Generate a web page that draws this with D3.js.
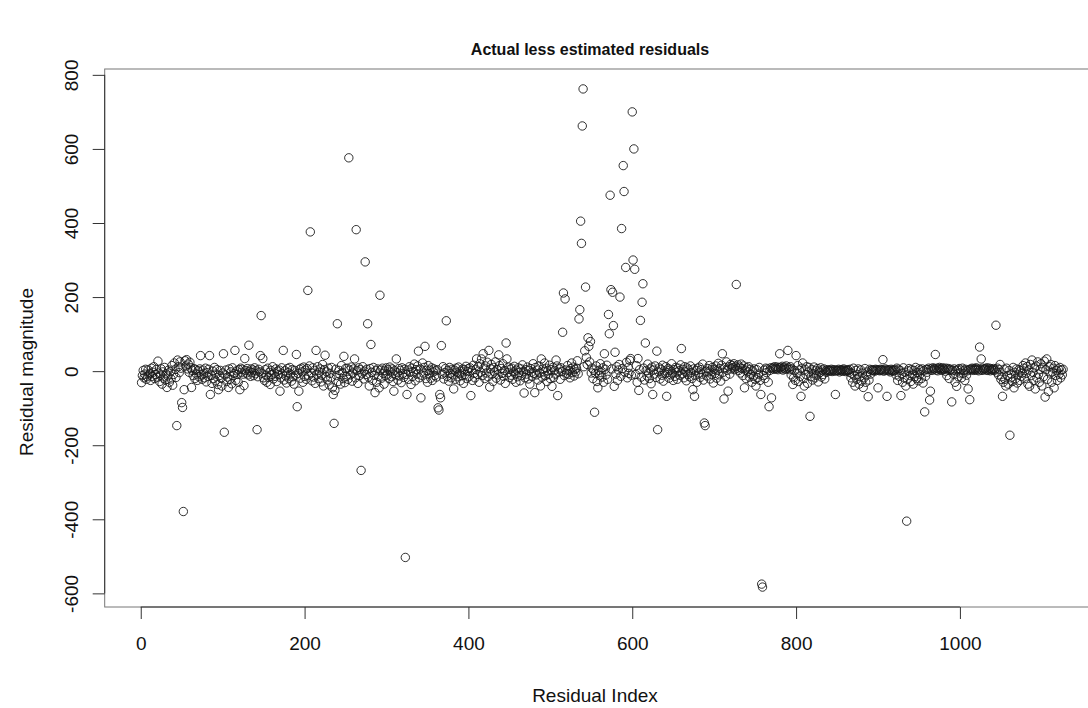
<!DOCTYPE html>
<html><head><meta charset="utf-8">
<script src="https://cdn.jsdelivr.net/npm/d3@7"></script>
<style>body{margin:0;background:#fff} text{font-family:"Liberation Sans",Arial,Helvetica,sans-serif;fill:#111}</style>
</head><body><svg id="c" width="1088" height="708"></svg>
<script>
// residuals for index 1..200
const resA = [
-31,-12,2,-18,-8,5,-22,-15,3,-10, -6,-25,8,-14,-3,12,-20,-9,4,-16,
27,-5,-28,-11,6,-35,-2,-19,10,-24, -7,-44,-13,3,-30,-1,-21,15,-38,-9,
22,5,-17,-147,30,12,-4,25,8,-85,
-98,-379,-50,28,14,31,6,19,-3,24, 9,-44,2,-12,7,-20,4,-8,-25,1,
-15,6,42,-10,-22,3,-6,-18,8,-29, -4,-14,5,42,-63,-11,-33,0,-20,10,
-26,-8,4,-36,-50,-12,2,-19,-40,-5,
47,-165,-10,3,-28,-16,-44,6,-22,-2, -34,9,-12,-6,56,-25,1,-9,-30,4,
-50,8,-3,5,-8,-39,34,2,-5,7, -10,70,0,-14,6,-4,3,-12,9,-7,
1,-158,-15,5,-2,42,150,-6,34,-18,
-25,4,-11,-30,8,-17,-3,-36,2,-9, 12,-21,-5,-14,6,-28,0,-10,3,-54,
-18,9,-7,56,-24,1,-13,-32,7,-4, -20,10,-8,-27,4,-15,-35,2,-11,45,
-96,-6,-54,5,-19,8,-2,-30,11,-14
];
// index 201..400
const resB = [
3,-22,7,218,-12,14,376,-5,-26,9, -16,2,-33,56,-8,12,-20,-3,6,-29,
-11,18,-40,4,43,-15,-2,-24,8,-37, -6,-18,10,-45,-63,-141,-52,5,-12,128,
-28,2,-9,-35,15,-4,-20,40,-31,7,
-14,8,-22,576,3,-10,11,-27,-5,6, 33,-18,382,2,-33,9,-12,4,-268,-7,
12,-21,0,295,-9,5,128,-16,-40,7, 72,-3,-25,10,-11,-58,1,-30,6,-14,
-45,205,3,-19,8,-6,-35,2,-12,9,
-8,4,-20,11,-2,-15,6,-28,-54,1, -10,33,-4,-24,7,-13,2,-31,9,-6,
-17,5,-503,-9,-63,3,-22,12,-3,-36, 8,-14,-1,19,-26,4,-8,14,54,-18,
6,-72,-11,22,-5,10,67,-20,2,-30,
15,-7,3,-19,9,-25,-2,6,-12,1, -16,4,-99,-105,-63,-72,69,-8,12,-21,
-4,7,136,-14,2,-27,10,-6,-18,5, -10,-48,3,-22,8,-3,-15,11,-7,-26,
0,-12,6,-33,4,-9,13,-20,-1,7
];
// index 401..600
const resC = [
-14,9,-66,2,-25,16,-6,-18,5,33, -9,12,-30,20,-3,33,-12,47,8,-20,
14,-5,24,-15,56,-43,6,18,-8,-28, 10,-2,25,-19,4,-10,44,15,-24,7,
-6,20,-14,2,-33,76,33,-4,11,-17,
5,-11,8,-22,-2,13,-7,-30,3,-15, 9,-4,-26,6,-12,17,-1,-59,-18,4,
-8,11,-21,2,-35,7,-3,-14,20,-6, -58,10,-10,3,-24,14,-5,-40,33,-16,
6,-2,22,-12,8,-28,1,-9,16,-20,
4,-41,10,-17,2,-8,30,14,-66,-3, 6,-22,9,-1,105,211,-12,195,3,-6,
15,-9,1,-18,7,22,-4,11,-13,5, -2,8,28,-7,141,166,405,345,662,762,
12,55,227,37,18,90,67,25,80,-5,
8,-20,3,-111,-6,14,-28,-45,2,-12, 20,-4,-16,9,-30,47,5,-10,16,-22,
153,101,475,220,6,213,123,-41,51,-8, 12,-25,3,18,200,-14,385,7,555,485,
-3,280,24,-18,10,-6,29,34,-11,700
];
// index 601..800
const resD = [
300,600,275,-9,15,-30,34,-52,4,137, -16,186,236,8,-24,76,2,-13,19,-5,
-20,6,-34,11,-63,3,-8,14,-17,54, -158,-2,9,-21,5,-11,16,-27,1,-7,
12,-68,-4,7,-19,3,-10,20,-6,-25,
4,-14,10,-3,-22,8,1,-11,17,61, -7,5,-18,12,-2,-26,9,-9,3,-15,
14,-4,-20,-50,6,-68,-12,2,-30,8, -5,11,-17,4,-8,19,-24,-140,-147,0,
-13,7,-2,15,-21,3,-9,10,-32,5,
-6,14,-19,3,21,-10,7,-27,16,47, -3,-75,10,-14,25,2,-54,12,-8,18,
6,15,9,20,4,13,234,8,17,2, 11,-5,19,7,-12,14,-45,3,-20,9,
-2,12,-16,5,-9,-30,1,-14,6,-22,
-40,4,-18,-8,10,-25,-63,-575,-583,-12, 3,-20,8,-4,6,-30,-96,2,9,-72,
7,10,5,12,8,6,11,4,9,47, 10,6,13,3,8,11,5,14,7,56,
9,4,12,-10,6,-36,-18,2,-25,42
];
// index 801..1000
const resE = [
-5,15,-28,3,-14,-68,8,22,-20,-40, 5,-9,12,-33,-2,10,-122,-15,4,-24,
-7,11,-18,2,-11,7,-29,0,-4,9, -16,3,-9,6,-21,1,-3,4,2,0,
3,1,5,-1,2,4,0,-63,3,1,
2,5,-2,3,1,4,0,6,2,-1, 3,1,4,2,-3,5,-18,-6,-30,8,
-12,-40,2,-22,-9,6,-35,-15,3,-27, -5,-44,-18,7,-30,-11,-2,-69,-24,5,
-8,2,4,1,3,0,5,2,4,-45,
3,1,5,2,4,31,0,3,6,2, -68,4,1,3,-2,5,2,0,4,1,
3,-10,8,-25,5,-14,2,-66,-6,-30, 9,-18,-3,-40,-405,-22,1,7,-12,-28,
4,-8,-35,2,-15,10,-20,-4,-26,6,
-9,3,-20,6,-32,1,-110,-14,5,-3, 4,8,-78,-54,6,2,9,5,7,45,
3,8,1,6,10,4,7,2,9,5, 6,0,8,-12,4,7,-20,3,5,-83,
2,-8,6,-30,1,-41,4,-15,7,-5
];
// index 1001..1126
const resF = [
3,-18,8,-6,2,-25,5,-11,1,-48, 4,-77,6,3,8,5,2,7,4,9,
3,6,1,65,5,33,2,8,4,6, 7,3,9,2,5,8,1,6,4,3,
7,2,5,124,-3,8,-10,4,18,-22,
-15,-68,-30,5,-22,-40,8,-12,-35,2, -173,-18,-8,-28,10,-45,-3,-20,6,-32,
-10,4,-25,1,-14,-5,15,8,-20,22, -6,12,-35,3,-41,18,-12,30,-3,-25,
9,-48,14,-18,25,-8,-30,5,20,-40,
10,-15,27,-70,4,33,-22,-55,12,-5, 18,-30,-2,8,-45,15,-12,2,-25,6,
-8,10,-18,3,-10,5
];
const xTicks = [0,200,400,600,800,1000];
const yTicks = [-600,-400,-200,0,200,400,600,800];
const titleText = "Actual less estimated residuals";
const xLabel = "Residual Index";
const yLabel = "Residual magnitude";

const residuals = [].concat(resA,resB,resC,resD,resE,resF);
const data = residuals.map((v,i)=>({index:i+1,value:v}));

const svg = d3.select("#c");
const box = {left:104.7, right:1100, top:69, bottom:607};
const n = residuals.length;
const xPad = 0.04*(n-1);
const x = d3.scaleLinear().domain([1-xPad, n+xPad]).range([box.left, box.right]);
const [ymin,ymax] = d3.extent(residuals);
const yPad = 0.04*(ymax-ymin);
const y = d3.scaleLinear().domain([ymin-yPad, ymax+yPad]).range([box.bottom, box.top]);

const axisCol = "#333";
const fmt = d => String(d); // plain hyphen-minus, as in the original
// points
svg.append("g").selectAll("circle").data(data).join("circle")
  .attr("cx", d=>x(d.index)).attr("cy", d=>y(d.value)).attr("r", 4.2)
  .attr("fill","none").attr("stroke","#1a1a1a").attr("stroke-width",0.9);

// box
svg.append("rect").attr("x",box.left).attr("y",box.top)
  .attr("width",box.right-box.left).attr("height",box.bottom-box.top)
  .attr("fill","none").attr("stroke","#777").attr("stroke-width",1);

// x axis
const gx = svg.append("g").attr("transform",`translate(0,${box.bottom})`)
  .call(d3.axisBottom(x).tickValues(xTicks).tickFormat(fmt).tickSize(12).tickPadding(18).tickSizeOuter(0));
gx.select(".domain").attr("d",`M${x(xTicks[0])},0H${x(xTicks[xTicks.length-1])}`).attr("stroke",axisCol);
gx.selectAll(".tick line").attr("stroke",axisCol);
gx.selectAll("text").attr("font-size",19).attr("fill","#111").style("font-family","'Liberation Sans',Arial,sans-serif");

// y axis
const gy = svg.append("g").attr("transform",`translate(${box.left},0)`)
  .call(d3.axisLeft(y).tickValues(yTicks).tickFormat(fmt).tickSize(12).tickSizeOuter(0));
gy.select(".domain").attr("d",`M0,${y(yTicks[0])}V${y(yTicks[yTicks.length-1])}`).attr("stroke",axisCol);
gy.selectAll(".tick line").attr("stroke",axisCol);
gy.selectAll(".tick text")
  .attr("x",0).attr("dy",null).attr("y",0)
  .attr("text-anchor","middle")
  .attr("transform","translate(-26.7,0) rotate(-90)")
  .attr("font-size",19).attr("fill","#111").style("font-family","'Liberation Sans',Arial,sans-serif");

// titles
svg.append("text").attr("x",590).attr("y",55)
  .attr("text-anchor","middle").attr("font-size",16).attr("font-weight","bold").text(titleText);
svg.append("text").attr("x",595).attr("y",702)
  .attr("text-anchor","middle").attr("font-size",19).text(xLabel);
svg.append("text").attr("transform",`translate(33,372) rotate(-90)`)
  .attr("text-anchor","middle").attr("font-size",19).text(yLabel);
</script></body></html>
